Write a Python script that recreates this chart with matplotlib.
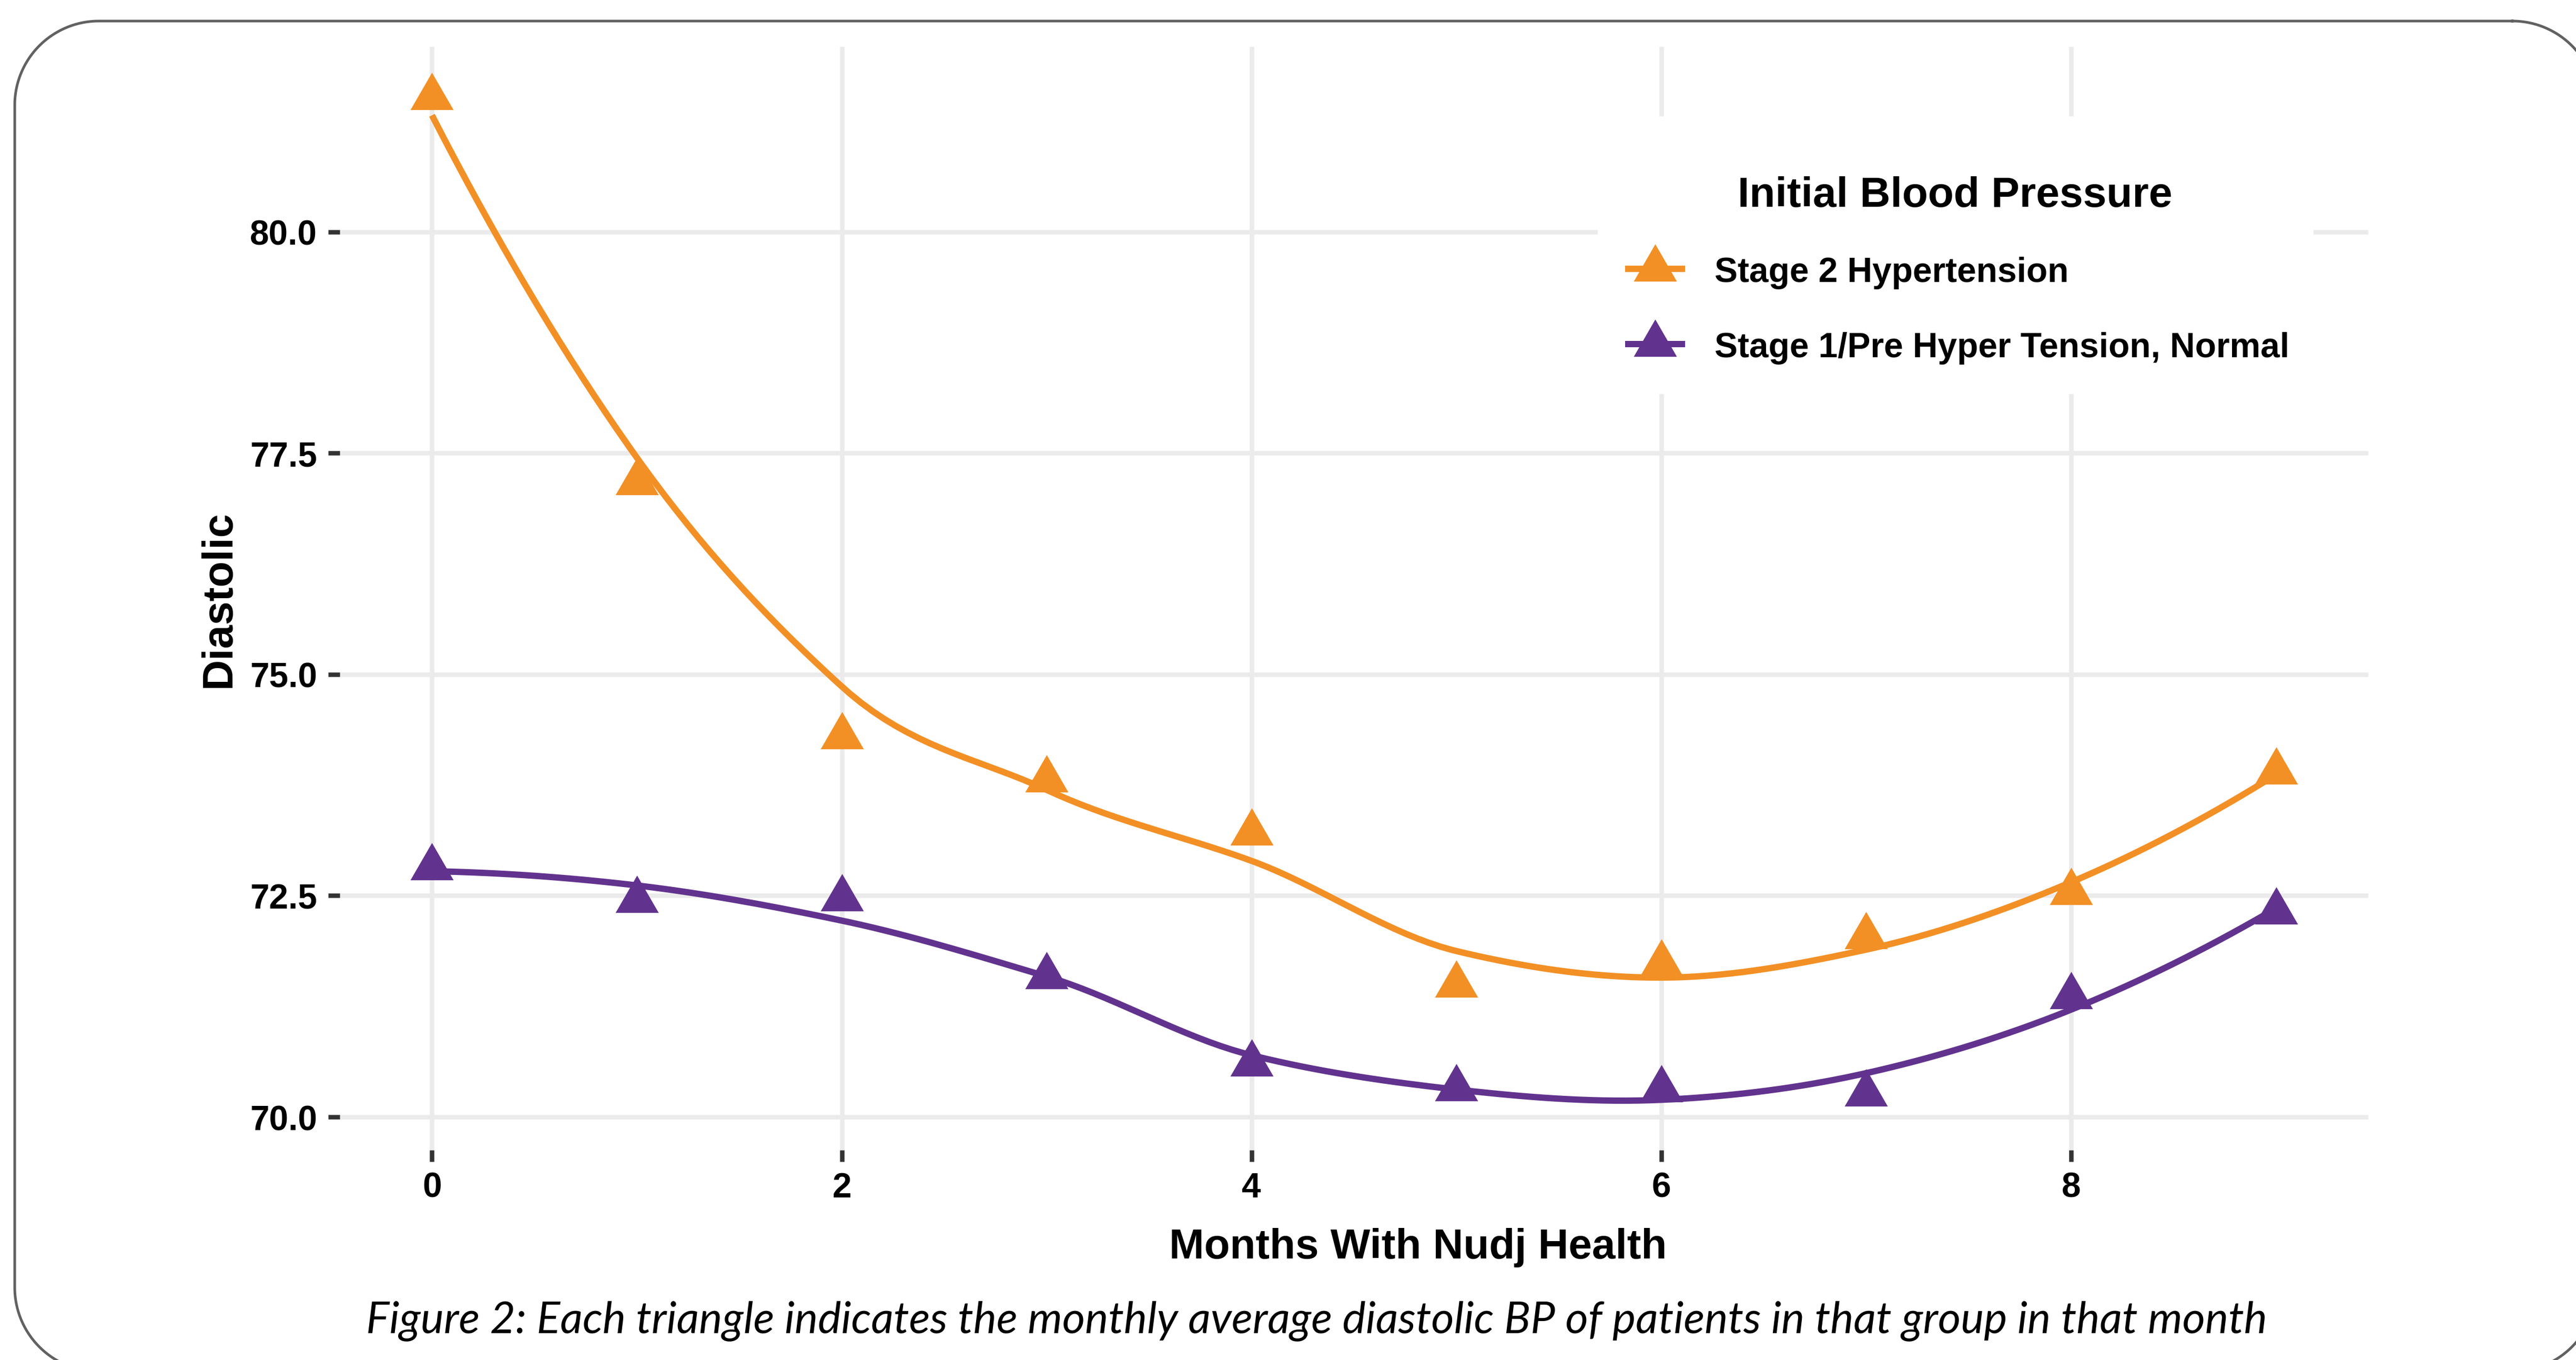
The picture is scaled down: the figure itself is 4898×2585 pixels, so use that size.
import numpy as np
import matplotlib
matplotlib.use("Agg")
import matplotlib.pyplot as plt
from matplotlib.transforms import Affine2D
from matplotlib.patches import Rectangle
from matplotlib.lines import Line2D

# ---------------- data ----------------
months = [0, 1, 2, 3, 4, 5, 6, 7, 8, 9]
stage2_diastolic = [81.52, 77.17, 74.30, 73.81, 73.21, 71.49, 71.73, 72.04, 72.54, 73.90]
stage1_diastolic = [72.82, 72.45, 72.47, 71.59, 70.60, 70.32, 70.31, 70.26, 71.36, 72.32]
series_labels = ["Stage 2 Hypertension", "Stage 1/Pre Hyper Tension, Normal"]
series_colors = ["#F29025", "#62338E"]
x_ticks = [0, 2, 4, 6, 8]
y_ticks = [70.0, 72.5, 75.0, 77.5, 80.0]
legend_title = "Initial Blood Pressure"
x_title = "Months With Nudj Health"
y_title = "Diastolic"
caption = ("Figure 2: Each triangle indicates the monthly average diastolic BP "
           "of patients in that group in that month")

# ---------------- helpers ----------------
W, H, DPI = 4898, 2586, 300
PT = 72.0 / DPI  # points per pixel


def local_fit(x, y, x0, q):
    d = np.abs(x - x0)
    h = np.sort(d)[q - 1]
    w = np.clip(1 - (d / h) ** 3, 0, None) ** 3
    X = np.vstack([np.ones(len(x)), x - x0, (x - x0) ** 2]).T
    WX = X * w[:, None]
    beta = np.linalg.lstsq(WX.T @ X, WX.T @ y, rcond=None)[0]
    return beta[0], beta[1]


def loess_curve(x, y, xs, span=0.75):
    """R-style loess (degree 2): local fits at kd-tree vertices,
    cubic Hermite interpolation in between."""
    x = np.asarray(x, float)
    y = np.asarray(y, float)
    q = int(np.floor(len(x) * span))
    mu = 0.005 * (x.max() - x.min())
    verts = np.unique(np.concatenate([[x.min() - mu], x[:-1], [x.max() + mu]]))
    fv, sv = zip(*[local_fit(x, y, v, q) for v in verts])
    fv, sv = np.array(fv), np.array(sv)
    out = []
    for t in xs:
        i = min(max(np.searchsorted(verts, t) - 1, 0), len(verts) - 2)
        h = verts[i + 1] - verts[i]
        u = (t - verts[i]) / h
        h00 = 2 * u**3 - 3 * u**2 + 1
        h10 = u**3 - 2 * u**2 + u
        h01 = -2 * u**3 + 3 * u**2
        h11 = u**3 - u**2
        out.append(h00 * fv[i] + h10 * h * sv[i] + h01 * fv[i + 1] + h11 * h * sv[i + 1])
    return np.array(out)


def rounded_rect_points(x0, y0, x1, y1, r, n=60):
    """Sampled outline of a rounded rectangle (pixel coords, y down)."""
    pts = []
    corners = [((x1 - r, y0 + r), -90, 0),    # top-right
               ((x1 - r, y1 - r), 0, 90),     # bottom-right
               ((x0 + r, y1 - r), 90, 180),   # bottom-left
               ((x0 + r, y0 + r), 180, 270)]  # top-left
    for (cx, cy), a0, a1 in corners:
        a = np.radians(np.linspace(a0, a1, n))
        pts.append(np.column_stack([cx + r * np.cos(a), cy + r * np.sin(a)]))
    pts.append(pts[0][:1])
    p = np.vstack(pts)
    # densify straight edges too
    dense = [p[0]]
    for a, b in zip(p[:-1], p[1:]):
        seg = np.linspace(a, b, max(2, int(np.hypot(*(b - a)) // 20) + 2))[1:]
        dense.extend(seg)
    p = np.array(dense)
    m = 12
    out = (p[:, 0] < -m) | (p[:, 0] > W + m) | (p[:, 1] < -m) | (p[:, 1] > H + m)
    p[out] = np.nan
    return p


FONT = "Liberation Sans"

fig = plt.figure(figsize=(W / DPI, H / DPI), dpi=DPI)
fig.patch.set_facecolor("white")
# pixel coords, origin top-left
T = Affine2D().scale(1.0 / W, -1.0 / H).translate(0, 1) + fig.transFigure

# panel geometry (pixels)
L, R, TOP, BOT = 646, 4503, 90, 2187
ax = fig.add_axes([L / W, 1 - BOT / H, (R - L) / W, (BOT - TOP) / H])
ax.set_facecolor("white")
for s in ax.spines.values():
    s.set_visible(False)
ax.set_xlim(-0.45, 9.45)
ax.set_ylim(69.626, 82.09)
ax.set_xticks(x_ticks)
ax.set_yticks(y_ticks)
ax.set_xticklabels([str(v) for v in x_ticks])
ax.set_yticklabels([f"{v:.1f}" for v in y_ticks])
ax.grid(True, color="#EBEBEB", linewidth=8.5 * PT)
ax.set_axisbelow(True)
ax.tick_params(axis="both", length=22 * PT, width=8.5 * PT, color="#333333",
               labelsize=15.75, labelcolor="black")
ax.tick_params(axis="y", pad=21 * PT)
ax.tick_params(axis="x", pad=19 * PT)
for lab in ax.get_xticklabels() + ax.get_yticklabels():
    lab.set_fontfamily(FONT)
    lab.set_fontweight("bold")

# R-style filled triangle (pch 17): point at centroid
tri = [(0.0, 47.3), (-41.0, -23.65), (41.0, -23.65)]
msize = 2 * 47.3 * PT

xs = np.linspace(0, 9, 160)
for vals, col in zip([stage2_diastolic, stage1_diastolic], series_colors):
    ax.plot(xs, loess_curve(months, vals, xs), color=col, lw=12 * PT,
            solid_capstyle="butt", zorder=3)
    ax.plot(months, vals, linestyle="none", marker=tri, markersize=msize,
            markeredgewidth=0, color=col, zorder=4)

# ---------------- legend (inside panel) ----------------
fig.add_artist(Rectangle((3038, 222), 4399 - 3038, 750 - 222, transform=T,
                         facecolor="white", edgecolor="none", zorder=5))
fig.text(3717, 393, legend_title, transform=T, ha="center", va="baseline",
         fontsize=19.3, fontweight="bold", family=FONT, zorder=6)
for i, (lab, col) in enumerate(zip(series_labels, series_colors)):
    yc = 512 + i * 143
    fig.add_artist(Line2D([3090, 3204], [yc, yc], transform=T, color=col,
                          lw=12 * PT, solid_capstyle="butt", zorder=6))
    fig.add_artist(Line2D([3147], [yc], transform=T, color=col, marker=tri,
                          markersize=msize, markeredgewidth=0, linestyle="none",
                          zorder=7))
    fig.text(3260, yc + 24, lab, transform=T, ha="left", va="baseline",
             fontsize=15.8, fontweight="bold", family=FONT, zorder=6)

# ---------------- axis titles & caption ----------------
fig.text(2696, 2392, x_title, transform=T, ha="center", va="baseline",
         fontsize=19.2, fontweight="bold", family=FONT)
fig.text(438, 1139, y_title, transform=T, ha="center", va="baseline",
         rotation=90, rotation_mode="anchor",
         fontsize=19.4, fontweight="bold", family=FONT)
fig.text(2503, 2533, caption, transform=T, ha="center", va="baseline",
         fontsize=20, fontstyle="italic", family=["Lato", "DejaVu Sans"],
         color="black")

# ---------------- rounded outer frame (partly outside the canvas) ----------------
fp = rounded_rect_points(28, 41, 4937, 2608, 160)
fig.add_artist(Line2D(fp[:, 0], fp[:, 1], transform=T, color="#616161",
                      lw=5 * PT, zorder=10, solid_joinstyle="round"))

fig.savefig("out.png", dpi=DPI, facecolor="white")
